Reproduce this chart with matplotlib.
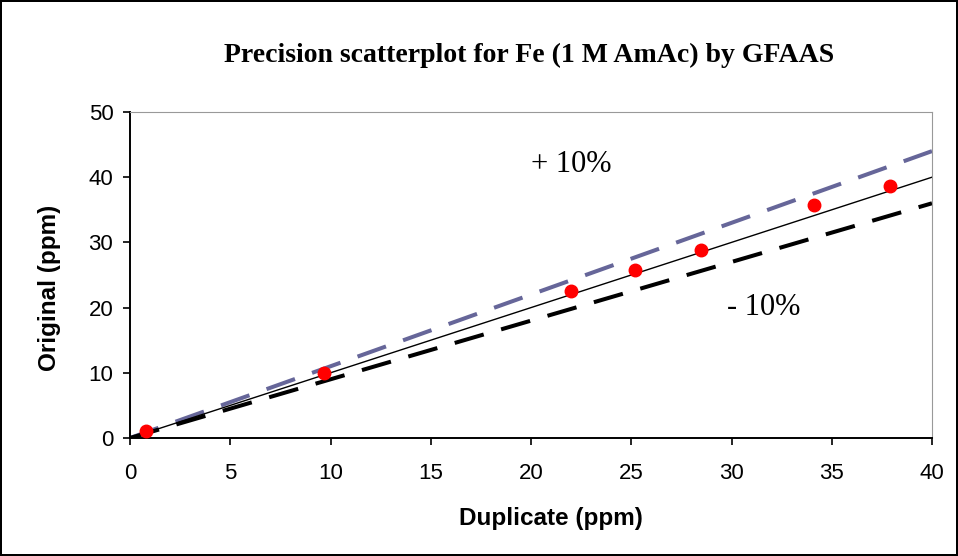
import matplotlib.pyplot as plt
import numpy as np

# duplicate vs original measurements (ppm)
duplicate = [0.8, 9.7, 22.0, 25.2, 28.5, 34.1, 37.9]
original = [1.1, 10.0, 22.5, 25.7, 28.9, 35.8, 38.7]

# reference lines: 1:1 and +/- 10 %
line_x = [0, 40]
line_y = [0, 40]
upper_y = [0, 44]
lower_y = [0, 36]

fig = plt.figure(figsize=(9.58, 5.56), dpi=100)
fig.patch.set_edgecolor('black')
fig.patch.set_linewidth(1.5)
ax = fig.add_axes([130/958, 1-438/556, (932-130)/958, (438-112)/556])

ax.plot(line_x, upper_y, color='#666699', lw=2.9, dashes=(7.5, 4.5))
ax.plot(line_x, lower_y, color='black', lw=2.9, dashes=(7.5, 4.5))
ax.plot(line_x, line_y, color='black', lw=1)
ax.plot(duplicate, original, 'o', color='red', ms=9, zorder=5)

ax.set_xlim(0, 40)
ax.set_ylim(0, 50)
ax.set_xticks(np.arange(0, 41, 5))
ax.set_yticks(np.arange(0, 51, 10))
ax.tick_params(direction='out', length=5, width=1.2, labelsize=16)
ax.tick_params(axis='x', pad=13)
ax.tick_params(axis='y', pad=7)
for lab in ax.get_xticklabels() + ax.get_yticklabels():
    lab.set_fontfamily('Liberation Sans')
for s in ['top', 'right']:
    ax.spines[s].set_color('#999999')
for s in ['left', 'bottom']:
    ax.spines[s].set_linewidth(1.4)

ax.set_xlabel('Duplicate (ppm)', fontsize=17.5, fontweight='bold', family='Liberation Sans')
ax.set_ylabel('Original (ppm)', fontsize=17.5, fontweight='bold', family='Liberation Sans')
ax.xaxis.set_label_coords((551-130)/802, (438-519)/326)
ax.yaxis.set_label_coords((50-130)/802, (438-288)/326)
ax.xaxis.label.set_va('center')
ax.yaxis.label.set_va('center')

fig.text(529/958, 1-55/556, 'Precision scatterplot for Fe (1 M AmAc) by GFAAS',
         ha='center', va='center', fontsize=20, fontweight='bold', family='Liberation Serif')
ax.text(20, 42, '+ 10%', fontsize=22, family='Liberation Serif', va='center')
ax.text(29.8, 20.0, '- 10%', fontsize=22, family='Liberation Serif', va='center')

fig.savefig('out.png', dpi=100)
